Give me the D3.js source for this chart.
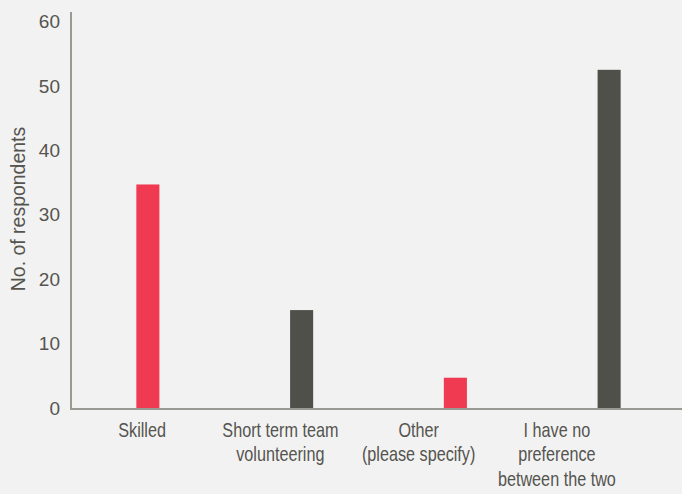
<!DOCTYPE html>
<html><head><meta charset="utf-8">
<script src="https://cdn.jsdelivr.net/npm/d3@7"></script>
<style>
html,body{margin:0;padding:0;background:#f2f2f2;}
text{font-family:"Liberation Sans","Arial",sans-serif;fill:#55544f;}
</style></head>
<body><svg id="c" width="682" height="494"></svg>
<script>
const categories = [["Skilled"],["Short term team","volunteering"],["Other","(please specify)"],["I have no","preference","between the two"]];
const values = [34.7, 15.2, 4.7, 52.5];
const barColors = ["#f03a52","#50504b","#f03a52","#50504b"];
const yTicks = [0,10,20,30,40,50,60];
const yTitle = "No. of respondents";

const svg = d3.select("#c");
svg.append("rect").attr("width",682).attr("height",494).attr("fill","#f2f2f2");
const ids = d3.range(categories.length);
const x = d3.scaleBand().domain(ids).range([71,686]).paddingInner(0.85).paddingOuter(0.425);
const xl = d3.scaleBand().domain(ids).range([73,626]);
const y = d3.scaleLinear().domain([0,60]).range([408,21.5]);

svg.selectAll("rect.bar").data(values).enter().append("rect").attr("class","bar")
  .attr("x",(d,i)=>x(i)).attr("width",x.bandwidth())
  .attr("y",d=>y(d)).attr("height",d=>y(0)-y(d)).attr("fill",(d,i)=>barColors[i]);

// axes lines
svg.append("line").attr("x1",71).attr("x2",682).attr("y1",409).attr("y2",409).attr("stroke","#9b9994").attr("stroke-width",2);
svg.append("line").attr("x1",71).attr("x2",71).attr("y1",12).attr("y2",410).attr("stroke","#9b9994").attr("stroke-width",2);

// y tick labels
const yAxis = d3.axisLeft(y).tickValues(yTicks).tickSize(0).tickPadding(11);
const ga = svg.append("g").attr("transform","translate(71,0)").call(yAxis);
ga.select(".domain").remove();
ga.selectAll("text").attr("font-size",19).style("font-family","'Liberation Sans',sans-serif").attr("fill","#55544f");

// x labels (condensed)
const lg = svg.selectAll("g.xl").data(categories).enter().append("g")
  .attr("transform",(d,i)=>`translate(${xl(i)+xl.bandwidth()/2},0)`);
lg.selectAll("text").data(d=>d).enter().append("text")
  .attr("text-anchor","middle").attr("font-size",20.5)
  .attr("transform",(d,j)=>`translate(0,${436.5+j*24.5}) scale(0.79,1)`).text(d=>d);

svg.append("text").attr("transform","translate(25,209) rotate(-90) scale(0.95,1)")
  .attr("text-anchor","middle").attr("font-size",20.5).text(yTitle);
</script></body></html>
